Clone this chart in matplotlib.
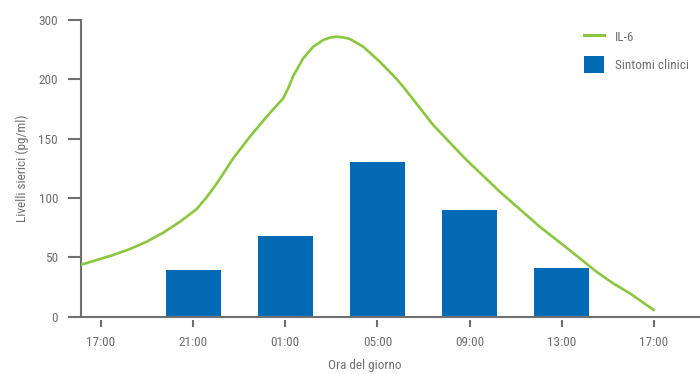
import matplotlib
matplotlib.use("Agg")
import matplotlib.pyplot as plt
from matplotlib import font_manager
from matplotlib.lines import Line2D
from matplotlib.patches import Patch
from matplotlib.transforms import blended_transform_factory

# pick a narrow/condensed font if installed
names = {f.name for f in font_manager.fontManager.ttflist}
narrow = [n for n in ['Liberation Sans Narrow', 'Roboto Condensed', 'Open Sans Condensed',
                      'DejaVu Sans Condensed', 'Noto Sans Condensed'] if n in names]
narrow += sorted(n for n in names if ('Narrow' in n or 'Condensed' in n) and n not in narrow)
FAMILY = narrow[:1] + ['Open Sans', 'DejaVu Sans']
plt.rcParams['font.family'] = FAMILY
STRETCH = 'normal' if narrow else 'condensed'

# ---- data ----
categories = ["17:00", "21:00", "01:00", "05:00", "09:00", "13:00", "17:00"]
bar_positions = [1, 2, 3, 4, 5]
bar_values = [39, 68, 130, 90, 41]

il6_x = [-0.228, -0.047, 0.133, 0.315, 0.496, 0.676, 0.857, 1.038, 1.146, 1.255,
         1.435, 1.616, 1.797, 1.977, 2.031, 2.086, 2.194, 2.303, 2.411, 2.484,
         2.55, 2.62, 2.701, 2.845, 3.026, 3.207, 3.279, 3.604, 3.966, 4.328,
         4.761, 5.014, 5.195, 5.376, 5.556, 5.738, 6.009]
il6_y = [43.4, 47.6, 51.9, 56.9, 63.1, 70.7, 79.9, 90.6, 100.5, 112,
         133.4, 151.6, 168.5, 184, 192.4, 202.8, 217.7, 227.5, 233.1, 235.2,
         235.9, 235.5, 234, 227.5, 214.8, 200.3, 193.8, 161.5, 132, 105.2,
         75.7, 60.3, 49.1, 37.8, 28, 19.6, 4.9]

ytick_pos = [0, 50, 100, 150, 200, 250]
ytick_labels = ["0", "50", "100", "150", "200", "300"]

GRAY = "#6f6f6f"
BLUE = "#006ab4"
GREEN = "#8cc63f"
FS = 9.5

fig = plt.figure(figsize=(7.0, 3.74), dpi=100)
ax = fig.add_axes([81/700, (374-316.5)/374, (700-81)/700, (316.5-20)/374])

ax.bar(bar_positions, bar_values, width=0.6, color=BLUE, zorder=2, label="Sintomi clinici")
ax.plot(il6_x, il6_y, color=GREEN, lw=1.9, zorder=3, solid_capstyle='butt',
        solid_joinstyle='round', label="IL-6")

ax.set_xlim(-0.217, 6.5)
ax.set_ylim(0, 250)

for s in ["top", "right"]:
    ax.spines[s].set_visible(False)
for s in ["left", "bottom"]:
    ax.spines[s].set_color(GRAY)
    ax.spines[s].set_linewidth(1.5)

ax.set_yticks(ytick_pos)
ax.set_yticklabels(ytick_labels)
ax.tick_params(axis='y', direction='out', length=9.5, width=1.5, color=GRAY,
               labelcolor=GRAY, labelsize=FS, pad=7)

ax.set_xticks(range(len(categories)))
ax.set_xticklabels(categories)
ax.tick_params(axis='x', length=0, labelcolor=GRAY, labelsize=FS, pad=14)
for lab in ax.get_xticklabels() + ax.get_yticklabels():
    lab.set_fontstretch(STRETCH)

# detached x tick marks
trans = blended_transform_factory(ax.transData, ax.transAxes)
for i in range(len(categories)):
    ax.plot([i, i], [-0.011, -0.035], transform=trans, color=GRAY, lw=1.5,
            clip_on=False, solid_capstyle='butt')

fig.text(22/700, 1-168/374, "Livelli sierici (pg/ml)", rotation=90, ha='center',
         va='center', color=GRAY, fontsize=FS, fontstretch=STRETCH)
fig.text(365/700, 1-366/374, "Ora del giorno", ha='center', va='center',
         color=GRAY, fontsize=FS, fontstretch=STRETCH)

handles = [Line2D([0], [0], color=GREEN, lw=2.2),
           Patch(facecolor=BLUE, edgecolor='none')]
leg = fig.legend(handles, ["IL-6", "Sintomi clinici"], loc='upper left',
                 bbox_to_anchor=(584/700, 1-28.5/374), bbox_transform=fig.transFigure,
                 frameon=False, fontsize=FS, handlelength=1.5, handleheight=1.55,
                 handletextpad=0.85, labelspacing=0.85, borderpad=0, borderaxespad=0)
for t in leg.get_texts():
    t.set_color(GRAY)
    t.set_fontstretch(STRETCH)

fig.savefig("out.png", dpi=100)
